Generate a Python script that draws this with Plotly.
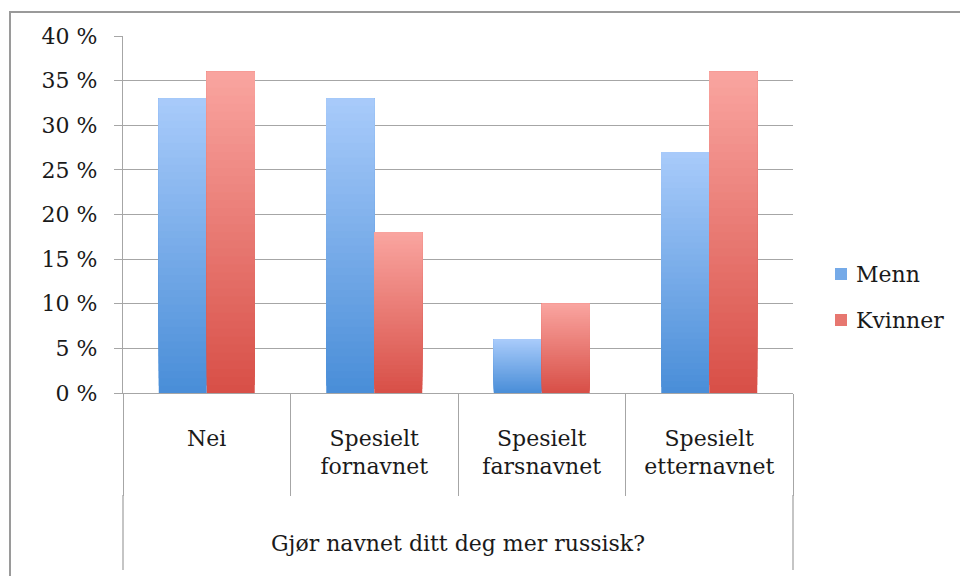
import plotly.graph_objects as go

# Survey answers (share of respondents, %)
categories = ["Nei", "Spesielt<br>fornavnet", "Spesielt<br>farsnavnet", "Spesielt<br>etternavnet"]
menn = [33, 33, 6, 27]
kvinner = [36, 18, 10, 36]
group_label = "Gjør navnet ditt deg mer russisk?"
y_ticks = [0, 5, 10, 15, 20, 25, 30, 35, 40]
y_ticktext = [f"{v} %" for v in y_ticks]

FONT = "DejaVu Serif"
FSIZE = 22
N_STEPS = 40  # vertical gradient resolution per bar

# plot area in pixels (used to place paper-referenced decorations)
L, R, T, B = 123, 793, 36, 393
PW, PH = R - L, B - T


def px(x):
    return (x - L) / PW


def py(y):
    return (B - y) / PH


def mix(c0, c1, t):
    return "rgb({},{},{})".format(*[round(a + (b - a) * t) for a, b in zip(c0, c1)])


series = [
    ("Menn", menn, (74, 142, 216), (170, 204, 251)),
    ("Kvinner", kvinner, (216, 80, 72), (250, 166, 161)),
]

fig = go.Figure()
for name, vals, dark, light in series:
    for k in range(N_STEPS):
        t = k / N_STEPS
        # each slice runs from its start height up to the bar top; later slices overlay earlier ones
        fig.add_trace(go.Bar(
            x=categories,
            y=[v * (1 - t) for v in vals],
            base=[v * t for v in vals],
            name=name,
            offsetgroup=name,
            showlegend=False,
            marker=dict(color=mix(dark, light, t), line=dict(width=0)),
            hoverinfo="skip",
        ))

grid = "#a6a6a6"
fig.update_layout(
    width=960, height=576,
    margin=dict(l=L, r=960 - R, t=T, b=576 - B),
    paper_bgcolor="white", plot_bgcolor="white",
    barmode="group", bargap=0.427, bargroupgap=0,
    font=dict(family=FONT, size=FSIZE, color="#1a1a1a"),
    showlegend=False,
)
fig.update_xaxes(
    type="category", tickson="boundaries", ticks="outside", ticklen=102,
    tickcolor=grid, tickwidth=1.3, showline=True, linecolor=grid, linewidth=1.3,
    showgrid=False, tickfont=dict(family=FONT, size=FSIZE), ticklabelstandoff=25,
)
fig.update_yaxes(
    range=[0, 40], tickvals=y_ticks, ticktext=y_ticktext,
    ticks="outside", ticklen=8, tickcolor=grid, tickwidth=1.3,
    showline=True, linecolor=grid, linewidth=1.3,
    showgrid=True, gridcolor=grid, gridwidth=1.3, zeroline=False,
    tickfont=dict(family=FONT, size=FSIZE), ticklabelstandoff=12,
)

# Outer frame around the whole chart area
fig.add_shape(type="rect", xref="paper", yref="paper",
              x0=px(10), x1=px(1000), y0=py(600), y1=py(12),
              line=dict(color="#9a9a9a", width=2), layer="below")
# Outer group box under the category labels
for xp in (0, 1):
    fig.add_shape(type="line", xref="paper", yref="paper",
                  x0=xp, x1=xp, y0=py(495), y1=py(570),
                  line=dict(color=grid, width=1.3))
fig.add_annotation(text=group_label, xref="paper", yref="paper",
                   x=0.5, y=py(543), yanchor="middle", showarrow=False,
                   font=dict(family=FONT, size=FSIZE, color="#1a1a1a"))

# Legend: swatch + label per series
for (name, vals, dark, light), yc in zip(series, (274, 320)):
    fig.add_shape(type="rect", xref="paper", yref="paper",
                  x0=px(835), x1=px(847), y0=py(yc + 6), y1=py(yc - 6),
                  line=dict(width=0), fillcolor=mix(dark, light, 0.45))
    fig.add_annotation(text=name, xref="paper", yref="paper",
                       x=px(854), y=py(yc), xanchor="left", yanchor="middle",
                       showarrow=False,
                       font=dict(family=FONT, size=FSIZE, color="#1a1a1a"))

fig.write_html("out.html")
